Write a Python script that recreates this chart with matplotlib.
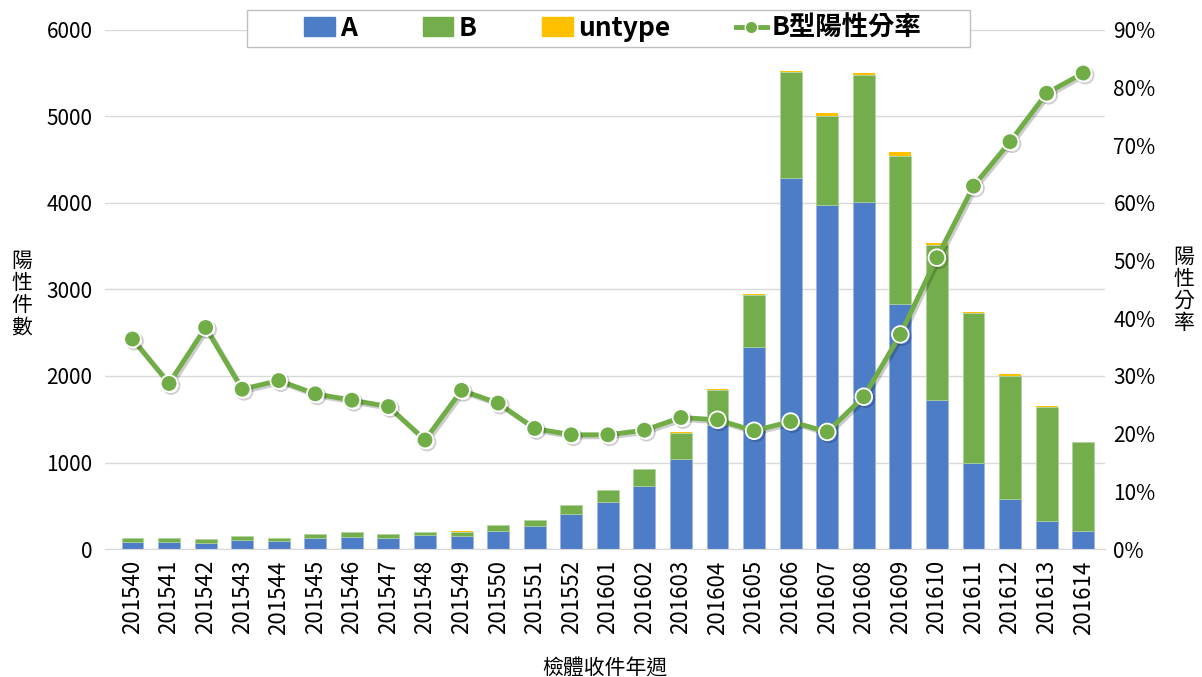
import numpy as np
import matplotlib
matplotlib.use('Agg')
from matplotlib import pyplot as plt
import matplotlib.patheffects as pe
from matplotlib.patches import Patch, Rectangle
from matplotlib.lines import Line2D
from matplotlib.ticker import PercentFormatter

plt.rcParams['font.family'] = ['Noto Sans CJK TC', 'DejaVu Sans']

weeks = ['201540', '201541', '201542', '201543', '201544', '201545', '201546',
         '201547', '201548', '201549', '201550', '201551', '201552',
         '201601', '201602', '201603', '201604', '201605', '201606', '201607',
         '201608', '201609', '201610', '201611', '201612', '201613', '201614']
a_cnt = [81, 87, 66, 106, 90, 124, 143, 130, 157, 145, 205, 268, 408,
         544, 731, 1036, 1429, 2335, 4285, 3977, 4012, 2836, 1726, 998, 574, 327, 204]
b_cnt = [46, 35, 48, 41, 37, 46, 50, 43, 36, 55, 69, 71, 101,
         134, 190, 306, 412, 595, 1233, 1032, 1460, 1707, 1788, 1724, 1429, 1318, 1031]
untype = [1, 4, 1, 4, 1, 3, 1, 1, 1, 3, 1, 1, 1,
          4, 2, 10, 5, 15, 11, 30, 31, 43, 24, 15, 20, 12, 5]
b_ratio = [36.4, 28.7, 38.4, 27.7, 29.2, 26.9, 25.8, 24.7, 18.9, 27.5, 25.3, 20.9, 19.8,
           19.8, 20.6, 22.8, 22.4, 20.5, 22.1, 20.3, 26.4, 37.2, 50.5, 62.9, 70.6, 79.0, 82.5]

c_a = '#4E7DC8'
c_b = '#74AE4C'
c_u = '#FFC000'
c_line = '#70AD47'

fig = plt.figure(figsize=(12.02, 6.77), dpi=100)
ax = fig.add_axes([0.0874, 0.189, 0.832, 0.767])
x = np.arange(len(weeks))
a = np.array(a_cnt)
b = np.array(b_cnt)
ax.bar(x, a, width=0.6, color=c_a, edgecolor='#9DB5E0', linewidth=0.5)
ax.bar(x, b, width=0.6, bottom=a, color=c_b, edgecolor='#B0D39A', linewidth=0.5)
ax.bar(x, untype, width=0.6, bottom=a + b, color=c_u, linewidth=0)

ax.set_xlim(-0.75, 26.6)
ax.set_ylim(0, 6000)
ax.set_yticks(range(0, 6001, 1000))
ax.set_xticks(x)
ax.set_xticklabels(weeks, rotation=90, fontsize=16)
ax.tick_params(axis='y', labelsize=15, length=0, pad=9)
ax.tick_params(axis='x', length=0, pad=8)
ax.grid(axis='y', color='#D9D9D9', linewidth=1)
ax.set_axisbelow(True)
for s in ['top', 'right', 'left']:
    ax.spines[s].set_visible(False)
ax.spines['bottom'].set_color('#D9D9D9')

ax2 = ax.twinx()
ax2.plot(x, b_ratio, color=c_line, linewidth=3.5, marker='o', markersize=12,
         markerfacecolor=c_line, markeredgecolor='white', markeredgewidth=1.3,
         path_effects=[pe.SimpleLineShadow(offset=(1.5, -1.5), alpha=0.2), pe.Normal()])
ax2.set_ylim(0, 90)
ax2.set_yticks(range(0, 91, 10))
ax2.yaxis.set_major_formatter(PercentFormatter(decimals=0))
ax2.tick_params(axis='y', labelsize=15, length=0, pad=6)
for s in ['top', 'right', 'left', 'bottom']:
    ax2.spines[s].set_visible(False)

fig.text(0.018, 0.565, '陽\n性\n件\n數', fontsize=15, ha='center', va='center', linespacing=1.0)
fig.text(0.985, 0.572, '陽\n性\n分\n率', fontsize=15, ha='center', va='center', linespacing=1.0)
fig.text(0.503, 0.013, '檢體收件年週', fontsize=15, ha='center', va='center')

# legend box (drawn separately so it can be wider than the entries)
fig.patches.append(Rectangle((247 / 1202, 1 - 47 / 677), 723 / 1202, 37 / 677,
                             transform=fig.transFigure, facecolor='white',
                             edgecolor='#BFBFBF', linewidth=1, zorder=5))
handles = [Patch(color=c_a), Patch(color=c_b), Patch(color=c_u),
           Line2D([0], [0], color=c_line, linewidth=3.5, marker='o', markersize=9,
                  markerfacecolor=c_line, markeredgecolor='white')]
leg = fig.legend(handles, ['A', 'B', 'untype', 'B型陽性分率'], ncol=4,
                 loc='center', bbox_to_anchor=(0.51, 0.958), frameon=False,
                 prop={'weight': 'bold', 'size': 19}, columnspacing=2.5,
                 handlelength=1.15, handletextpad=0.2, borderpad=0.2,
                 borderaxespad=0)
leg.set_zorder(6)

plt.savefig('out.png', dpi=100)
